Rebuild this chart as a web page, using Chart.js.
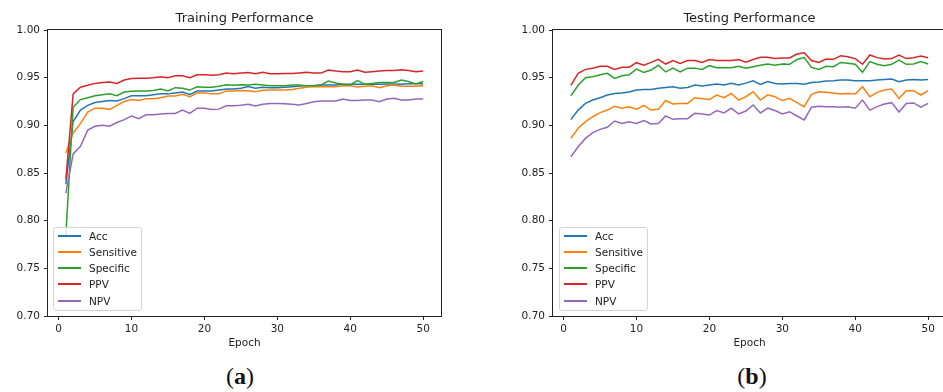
<!DOCTYPE html>
<html>
<head>
<meta charset="utf-8">
<script src="https://cdn.jsdelivr.net/npm/chart.js@4.4.0/dist/chart.umd.min.js"></script>
<style>
  body { margin: 0; background: #fff; overflow: hidden; }
  #page { position: relative; width: 943px; height: 392px; overflow: hidden; }
  canvas { position: absolute; top: 0; }
  .legend {
    position: absolute; top: 227px; width: 89px; height: 84px;
    box-sizing: border-box; border: 1px solid #d4d4d4; border-radius: 3px;
    background: rgba(255, 255, 255, 0.8);
    font-family: "DejaVu Sans", sans-serif; font-size: 10.5px; color: #222;
  }
  .legend .swatch { position: absolute; left: 4px; width: 23px; height: 2px; }
  .legend .label { position: absolute; left: 35px; line-height: 12px; }
  .caption {
    position: absolute; top: 362px; width: 80px; text-align: center;
    font-family: "Liberation Serif", serif; font-size: 24px; line-height: 28px; color: #111;
  }
</style>
</head>
<body>
<div id="page">
  <canvas id="trainChart" width="460" height="353" style="left:0px"></canvas>
  <canvas id="testChart" width="460" height="353" style="left:505px"></canvas>
  <div class="legend" id="trainLegend" style="left:53px"></div>
  <div class="legend" id="testLegend" style="left:559px"></div>
  <div class="caption" style="left:200px">(<b>a</b>)</div>
  <div class="caption" style="left:712px">(<b>b</b>)</div>
</div>
<script>
const epochs = [];
for (let i = 1; i <= 50; i++) epochs.push(i);

const seriesNames = ['Acc', 'Sensitive', 'Specific', 'PPV', 'NPV'];
const seriesColors = ['#1f77b4', '#ff7f0e', '#2ca02c', '#d62728', '#9467bd'];
const xTicks = [0, 10, 20, 30, 40, 50];
const yTicks = [0.70, 0.75, 0.80, 0.85, 0.90, 0.95, 1.00];

// training curves
const trainAcc = [0.838, 0.904, 0.916, 0.921, 0.924, 0.925, 0.926, 0.9255, 0.928, 0.931,
  0.931, 0.931, 0.932, 0.933, 0.933, 0.934, 0.935, 0.9325, 0.936, 0.936,
  0.936, 0.937, 0.938, 0.938, 0.939, 0.9406, 0.9388, 0.940, 0.9395, 0.9395,
  0.940, 0.9406, 0.9413, 0.9416, 0.9416, 0.9423, 0.9423, 0.9423, 0.943, 0.943,
  0.943, 0.943, 0.943, 0.943, 0.9434, 0.9434, 0.943, 0.9437, 0.9437, 0.9437];
const trainSensitive = [0.871, 0.892, 0.902, 0.914, 0.918, 0.918, 0.9167, 0.921, 0.925, 0.927,
  0.926, 0.928, 0.928, 0.929, 0.9307, 0.9307, 0.9325, 0.930, 0.934, 0.934,
  0.933, 0.933, 0.936, 0.936, 0.9365, 0.9363, 0.9353, 0.9367, 0.937, 0.937,
  0.937, 0.9377, 0.9388, 0.9399, 0.9406, 0.9406, 0.9406, 0.9406, 0.9416, 0.9416,
  0.9402, 0.941, 0.9416, 0.9395, 0.9416, 0.9423, 0.941, 0.941, 0.941, 0.9416];
const trainSpecific = [0.785, 0.919, 0.927, 0.929, 0.931, 0.932, 0.933, 0.931, 0.935, 0.9357,
  0.936, 0.936, 0.9365, 0.938, 0.936, 0.9395, 0.939, 0.937, 0.9405, 0.940,
  0.940, 0.941, 0.9426, 0.942, 0.9425, 0.9423, 0.943, 0.9423, 0.9416, 0.9416,
  0.9416, 0.9423, 0.9423, 0.9416, 0.9416, 0.9423, 0.9465, 0.9444, 0.943, 0.9423,
  0.947, 0.943, 0.944, 0.945, 0.945, 0.945, 0.9476, 0.946, 0.9434, 0.946];
const trainPPV = [0.843, 0.933, 0.940, 0.942, 0.944, 0.945, 0.9455, 0.944, 0.9475, 0.949,
  0.9493, 0.9493, 0.950, 0.951, 0.950, 0.952, 0.952, 0.950, 0.953, 0.953,
  0.9525, 0.953, 0.955, 0.954, 0.9548, 0.9553, 0.954, 0.9556, 0.954, 0.954,
  0.9545, 0.9545, 0.955, 0.9556, 0.955, 0.9548, 0.958, 0.957, 0.9563, 0.9563,
  0.958, 0.9556, 0.9563, 0.957, 0.9574, 0.9574, 0.9584, 0.9574, 0.9563, 0.957];
const trainNPV = [0.829, 0.870, 0.878, 0.895, 0.899, 0.900, 0.899, 0.903, 0.906, 0.9097,
  0.907, 0.911, 0.911, 0.912, 0.9125, 0.9125, 0.916, 0.9125, 0.918, 0.918,
  0.9165, 0.917, 0.9205, 0.9205, 0.921, 0.922, 0.9203, 0.922, 0.923, 0.923,
  0.9227, 0.922, 0.9213, 0.923, 0.9248, 0.9255, 0.9255, 0.9255, 0.9276, 0.926,
  0.926, 0.9265, 0.9265, 0.9248, 0.9276, 0.9283, 0.9265, 0.9265, 0.9276, 0.9276];

// testing curves
const testAcc = [0.906, 0.916, 0.923, 0.9265, 0.929, 0.9318, 0.9335, 0.934, 0.935, 0.937,
  0.9377, 0.9377, 0.9388, 0.9398, 0.9405, 0.9388, 0.9398, 0.9423, 0.9412, 0.9423,
  0.9433, 0.9423, 0.944, 0.9423, 0.9443, 0.9468, 0.943, 0.946, 0.944, 0.9433,
  0.944, 0.944, 0.943, 0.945, 0.9455, 0.9465, 0.9468, 0.9475, 0.9475, 0.9468,
  0.9468, 0.9468, 0.9475, 0.9482, 0.9486, 0.9458, 0.9475, 0.9482, 0.9475, 0.948];
const testSensitive = [0.8863, 0.897, 0.9038, 0.909, 0.9133, 0.916, 0.920, 0.918, 0.9195, 0.917,
  0.921, 0.916, 0.9168, 0.926, 0.9224, 0.923, 0.923, 0.929, 0.928, 0.927,
  0.9318, 0.929, 0.9335, 0.9265, 0.930, 0.9353, 0.9265, 0.932, 0.930, 0.926,
  0.9283, 0.9238, 0.9196, 0.9325, 0.9353, 0.9346, 0.934, 0.9328, 0.9335, 0.9328,
  0.9405, 0.930, 0.9346, 0.937, 0.938, 0.9283, 0.9363, 0.9363, 0.9318, 0.9363];
const testSpecific = [0.931, 0.942, 0.950, 0.951, 0.953, 0.9545, 0.9493, 0.952, 0.953, 0.959,
  0.9555, 0.958, 0.963, 0.956, 0.960, 0.956, 0.960, 0.960, 0.9587, 0.9626,
  0.9605, 0.9605, 0.9605, 0.962, 0.960, 0.9615, 0.963, 0.9643, 0.963, 0.9643,
  0.964, 0.969, 0.971, 0.9608, 0.9587, 0.962, 0.9615, 0.966, 0.965, 0.964,
  0.9556, 0.9668, 0.964, 0.9626, 0.964, 0.9685, 0.964, 0.9643, 0.9668, 0.9643];
const testPPV = [0.942, 0.9545, 0.9587, 0.9598, 0.962, 0.962, 0.9587, 0.961, 0.961, 0.9657,
  0.963, 0.966, 0.9692, 0.9643, 0.968, 0.965, 0.968, 0.968, 0.966, 0.969,
  0.968, 0.968, 0.968, 0.969, 0.9662, 0.969, 0.9713, 0.9713, 0.970, 0.9706,
  0.9706, 0.9748, 0.9762, 0.968, 0.966, 0.9696, 0.9692, 0.973, 0.972, 0.970,
  0.964, 0.9738, 0.971, 0.9695, 0.970, 0.9738, 0.970, 0.971, 0.9727, 0.971];
const testNPV = [0.867, 0.8776, 0.8863, 0.8923, 0.8958, 0.898, 0.9045, 0.902, 0.9038, 0.902,
  0.905, 0.9014, 0.902, 0.9098, 0.9063, 0.907, 0.907, 0.9126, 0.912, 0.9108,
  0.9154, 0.913, 0.918, 0.912, 0.915, 0.9213, 0.913, 0.918, 0.9155, 0.912,
  0.9143, 0.9098, 0.9056, 0.919, 0.920, 0.9196, 0.9196, 0.919, 0.9196, 0.918,
  0.9265, 0.916, 0.9196, 0.9224, 0.9238, 0.914, 0.923, 0.9235, 0.919, 0.923];

const textColor = '#222';
const fontFamily = '"DejaVu Sans", sans-serif';

// draws the four spines like matplotlib
const boxPlugin = {
  id: 'box',
  afterDatasetsDraw(chart) {
    const a = chart.chartArea;
    const ctx = chart.ctx;
    ctx.save();
    ctx.strokeStyle = '#222';
    ctx.lineWidth = 1;
    ctx.strokeRect(Math.round(a.left) - 0.5, Math.round(a.top) - 0.5,
      Math.round(a.right - a.left) + 1, Math.round(a.bottom - a.top) + 1);
    ctx.restore();
  }
};

function makeChart(canvasId, title, seriesList) {
  const datasets = seriesList.map((values, i) => ({
    label: seriesNames[i],
    data: values.map((v, j) => ({ x: epochs[j], y: v })),
    borderColor: seriesColors[i],
    backgroundColor: seriesColors[i],
    borderWidth: 1.5,
    pointRadius: 0,
    tension: 0,
    order: seriesList.length - i
  }));

  const ctx = document.getElementById(canvasId).getContext('2d');
  return new Chart(ctx, {
    type: 'line',
    data: { datasets: datasets },
    plugins: [boxPlugin],
    options: {
      responsive: false,
      animation: false,
      layout: { padding: { left: 0, right: 19, top: 0, bottom: 0 } },
      plugins: {
        legend: { display: false },
        tooltip: { enabled: false },
        title: {
          display: true,
          text: title,
          fullSize: false,
          color: textColor,
          font: { family: fontFamily, size: 13, weight: 'normal' },
          padding: { top: 10.5, bottom: 3.9 }
        }
      },
      scales: {
        x: {
          type: 'linear',
          min: -1.45,
          max: 52.45,
          afterFit: axis => { axis.height = 37; },
          afterBuildTicks: axis => { axis.ticks = xTicks.map(v => ({ value: v })); },
          grid: { drawOnChartArea: false, drawTicks: true, tickLength: 4, color: '#222' },
          border: { display: false },
          ticks: {
            color: textColor, padding: 3, maxRotation: 0,
            font: { family: fontFamily, size: 10.5 },
            callback: v => String(v)
          },
          title: {
            display: true, text: 'Epoch', color: textColor,
            font: { family: fontFamily, size: 10.5 },
            padding: { top: 0, bottom: 3 }
          }
        },
        y: {
          min: 0.70,
          max: 1.00,
          afterFit: axis => { axis.width = 48; },
          afterBuildTicks: axis => { axis.ticks = yTicks.map(v => ({ value: v })); },
          grid: { drawOnChartArea: false, drawTicks: true, tickLength: 4, color: '#222' },
          border: { display: false },
          ticks: {
            color: textColor, padding: 4,
            font: { family: fontFamily, size: 10.5 },
            callback: v => Number(v).toFixed(2)
          }
        }
      }
    }
  });
}

function makeLegend(divId) {
  const box = document.getElementById(divId);
  seriesNames.forEach((name, i) => {
    const y = 7.5 + i * 16.3;
    const swatch = document.createElement('div');
    swatch.className = 'swatch';
    swatch.style.top = (y - 1) + 'px';
    swatch.style.background = seriesColors[i];
    box.appendChild(swatch);

    const label = document.createElement('div');
    label.className = 'label';
    label.style.top = (y - 6) + 'px';
    label.textContent = name;
    box.appendChild(label);
  });
}

makeChart('trainChart', 'Training Performance',
  [trainAcc, trainSensitive, trainSpecific, trainPPV, trainNPV]);
makeChart('testChart', 'Testing Performance',
  [testAcc, testSensitive, testSpecific, testPPV, testNPV]);
makeLegend('trainLegend');
makeLegend('testLegend');
</script>
</body>
</html>
